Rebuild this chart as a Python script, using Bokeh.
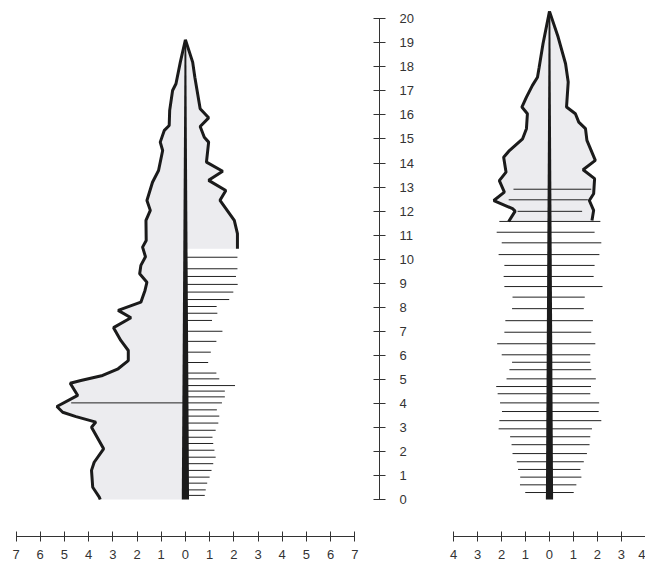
from bokeh.plotting import figure
from bokeh.layouts import row
from bokeh.models import FixedTicker, Range1d
from bokeh.embed import file_html
from bokeh.resources import INLINE

# ---------------- data: kite A (left) ----------------
a_left_y = [0.00, 0.10, 0.51, 1.21, 1.55, 2.11, 3.01, 3.22, 3.45, 3.63, 3.87, 4.33, 4.84, 4.95,
            5.16, 5.44, 5.78, 6.20, 6.62, 7.15, 7.56, 7.87, 8.21, 8.70, 9.04, 9.39, 9.74, 10.10,
            10.50, 10.78, 11.61, 12.03, 12.44, 13.20, 13.69, 14.52, 14.87, 15.36, 15.56, 16.19,
            17.02, 17.30, 18.20, 19.13]
a_left_x = [-3.52, -3.56, -3.83, -3.88, -3.77, -3.38, -3.88, -3.70, -4.52, -5.07, -5.31, -4.45, -4.76, -4.32,
            -3.42, -2.78, -2.36, -2.36, -2.67, -2.97, -2.25, -2.78, -1.84, -1.67, -1.59, -1.89, -1.84, -1.65,
            -1.77, -1.62, -1.63, -1.45, -1.59, -1.36, -1.11, -0.94, -1.04, -0.87, -0.67, -0.65,
            -0.53, -0.39, -0.21, 0.00]
a_right_y = [19.13, 18.20, 17.57, 16.26, 15.88, 15.52, 15.07, 14.87, 14.04, 13.66, 13.28, 12.86,
             12.45, 11.61, 11.06, 10.43]
a_right_x = [0.00, 0.30, 0.39, 0.61, 0.96, 0.61, 0.78, 0.96, 0.87, 1.54, 0.96, 1.67,
             1.43, 2.02, 2.15, 2.15]
a_bar_y = [10.08, 9.60, 9.28, 8.95, 8.63, 8.32, 8.03, 7.75, 7.45, 7.00, 6.58, 6.13, 5.70, 5.26,
           5.02, 4.74, 4.51, 4.27, 4.02, 3.73, 3.47, 3.18, 2.88, 2.59, 2.33, 2.05, 1.76, 1.49,
           1.21, 0.93, 0.68, 0.40, 0.17]
a_bar_left = [0, 0, 0, 0, 0, 0, 0, 0, 0, 0, 0, 0, 0, 0,
              0, 0, 0, 0, -4.72, 0, 0, 0, 0, 0, 0, 0, 0, 0,
              0, 0, 0, 0, 0]
a_bar_right = [2.15, 2.15, 2.09, 2.16, 1.98, 1.81, 1.29, 1.32, 1.10, 1.53, 1.28, 1.05, 0.94, 1.28,
               1.40, 2.05, 1.63, 1.63, 1.51, 1.30, 1.40, 1.36, 1.25, 1.12, 1.15, 1.20, 1.25, 1.15,
               1.08, 1.00, 0.90, 0.84, 0.80]

# ---------------- data: kite B (right) ----------------
b_left_y = [11.57, 12.00, 12.10, 12.44, 12.79, 13.27, 13.62, 14.24, 14.52, 15.01, 15.43, 16.05,
            16.33, 16.74, 17.23, 17.57, 17.99, 18.96, 20.31]
b_left_x = [-1.70, -1.43, -1.54, -2.32, -1.88, -2.09, -1.81, -1.91, -1.67, -1.12, -0.96, -0.92,
            -1.15, -0.96, -0.71, -0.50, -0.43, -0.27, 0.00]
b_right_y = [20.31, 19.24, 18.13, 17.37, 16.33, 16.05, 15.70, 15.43, 14.94, 14.11, 13.72, 13.35,
             12.72, 12.44, 12.03, 11.61]
b_right_x = [0.00, 0.36, 0.67, 0.78, 0.71, 1.08, 1.22, 1.50, 1.56, 1.91, 1.40, 1.88,
             1.84, 1.66, 1.84, 1.77]
b_bar_y = [12.91, 12.47, 11.99, 11.57, 11.12, 10.68, 10.19, 9.74, 9.28, 8.86, 8.42, 7.94, 7.44,
           6.96, 6.48, 6.02, 5.71, 5.40, 5.02, 4.70, 4.40, 4.02, 3.66, 3.28, 2.94, 2.61,
           2.28, 1.91, 1.57, 1.25, 0.93, 0.61, 0.29]
b_bar_left = [-1.50, -1.70, -1.33, -2.09, -2.20, -1.99, -2.12, -1.88, -1.91, -1.88, -1.54, -1.56, -1.84,
              -1.88, -2.18, -1.99, -1.56, -1.67, -1.79, -2.22, -2.16, -2.06, -1.98, -2.09, -2.12, -1.64,
              -1.58, -1.54, -1.36, -1.31, -1.22, -1.23, -1.01]
b_bar_right = [1.74, 1.60, 1.36, 2.12, 1.88, 2.16, 2.08, 1.88, 1.84, 2.21, 1.47, 1.43, 1.81,
               1.74, 1.91, 1.70, 1.70, 1.74, 1.93, 1.73, 1.70, 2.07, 2.05, 2.16, 1.77, 1.70,
               1.67, 1.56, 1.43, 1.29, 1.33, 1.12, 1.01]

# ---------------- axes ticks ----------------
y_ticks = list(range(0, 21))
a_x_ticks = list(range(-7, 8))
a_x_labels = [str(abs(t)) for t in a_x_ticks]
b_x_ticks = list(range(-4, 5))
b_x_labels = [str(abs(t)) for t in b_x_ticks]

FILL = "#ececef"
INK = "#1b1b1b"
AXC = "#333333"
FONT = "Liberation Sans"
HALF_BOTTOM = 0.15
HALF_TOP = 0.035

Y_RANGE = (-1.54, 20.43)


def style(p):
    p.grid.visible = False
    p.outline_line_color = None
    p.background_fill_color = "white"
    p.border_fill_color = "white"


def style_axis(ax, ticks, labels, bounds, tin, tout, standoff):
    ax.ticker = FixedTicker(ticks=ticks, minor_ticks=[])
    ax.major_label_overrides = {t: l for t, l in zip(ticks, labels)}
    ax.bounds = bounds
    ax.axis_line_color = AXC
    ax.axis_line_width = 1
    ax.major_tick_line_color = AXC
    ax.major_tick_in = tin
    ax.major_tick_out = tout
    ax.minor_tick_line_color = None
    ax.major_label_standoff = standoff
    ax.major_label_text_font = FONT
    ax.major_label_text_font_size = "13px"
    ax.major_label_text_color = "#333333"


def wedge(p, ytop):
    p.patch([-HALF_BOTTOM, HALF_BOTTOM, HALF_TOP, -HALF_TOP],
            [0, 0, ytop, ytop], fill_color=INK, line_color=None)


# ---------------- left figure ----------------
p1 = figure(width=423, height=566, x_range=Range1d(-7.31, 8.02), y_range=Range1d(*Y_RANGE),
            output_backend="svg", toolbar_location=None, y_axis_location="right",
            min_border_left=8, min_border_right=44, min_border_top=8, min_border_bottom=30)
style(p1)

fill_x = a_left_x + a_right_x + [0, 0]
fill_y = a_left_y + a_right_y + [a_right_y[-1], a_left_y[0]]
p1.patch(fill_x, fill_y, fill_color=FILL, line_color=None)
p1.segment(x0=a_bar_left, y0=a_bar_y, x1=a_bar_right, y1=a_bar_y, line_color="#222222", line_width=1)
p1.line(a_left_x, a_left_y, line_color=INK, line_width=3)
p1.line(a_right_x, a_right_y, line_color=INK, line_width=3)
wedge(p1, max(a_left_y))

style_axis(p1.xaxis[0], a_x_ticks, a_x_labels, (-7, 7), 5, 5, 8)
style_axis(p1.yaxis[0], y_ticks, [str(t) for t in y_ticks], (0, 20), 6, 6, 14)
p1.yaxis[0].major_label_text_align = "right"

# ---------------- right figure ----------------
p2 = figure(width=222, height=566, x_range=Range1d(-5.25, 4.001), y_range=Range1d(*Y_RANGE),
            output_backend="svg", toolbar_location=None, y_axis_location=None,
            min_border_left=0, min_border_right=0, min_border_top=8, min_border_bottom=30)
style(p2)

p2.patch(b_left_x + b_right_x, b_left_y + b_right_y, fill_color=FILL, line_color=None)
p2.segment(x0=b_bar_left, y0=b_bar_y, x1=b_bar_right, y1=b_bar_y, line_color="#222222", line_width=1)
p2.line(b_left_x, b_left_y, line_color=INK, line_width=3)
p2.line(b_right_x, b_right_y, line_color=INK, line_width=3)
wedge(p2, max(b_left_y))

style_axis(p2.xaxis[0], b_x_ticks, b_x_labels, (-4, 4), 5, 5, 8)

layout = row(p1, p2, spacing=0)
open("out.html", "w").write(file_html(layout, INLINE))
